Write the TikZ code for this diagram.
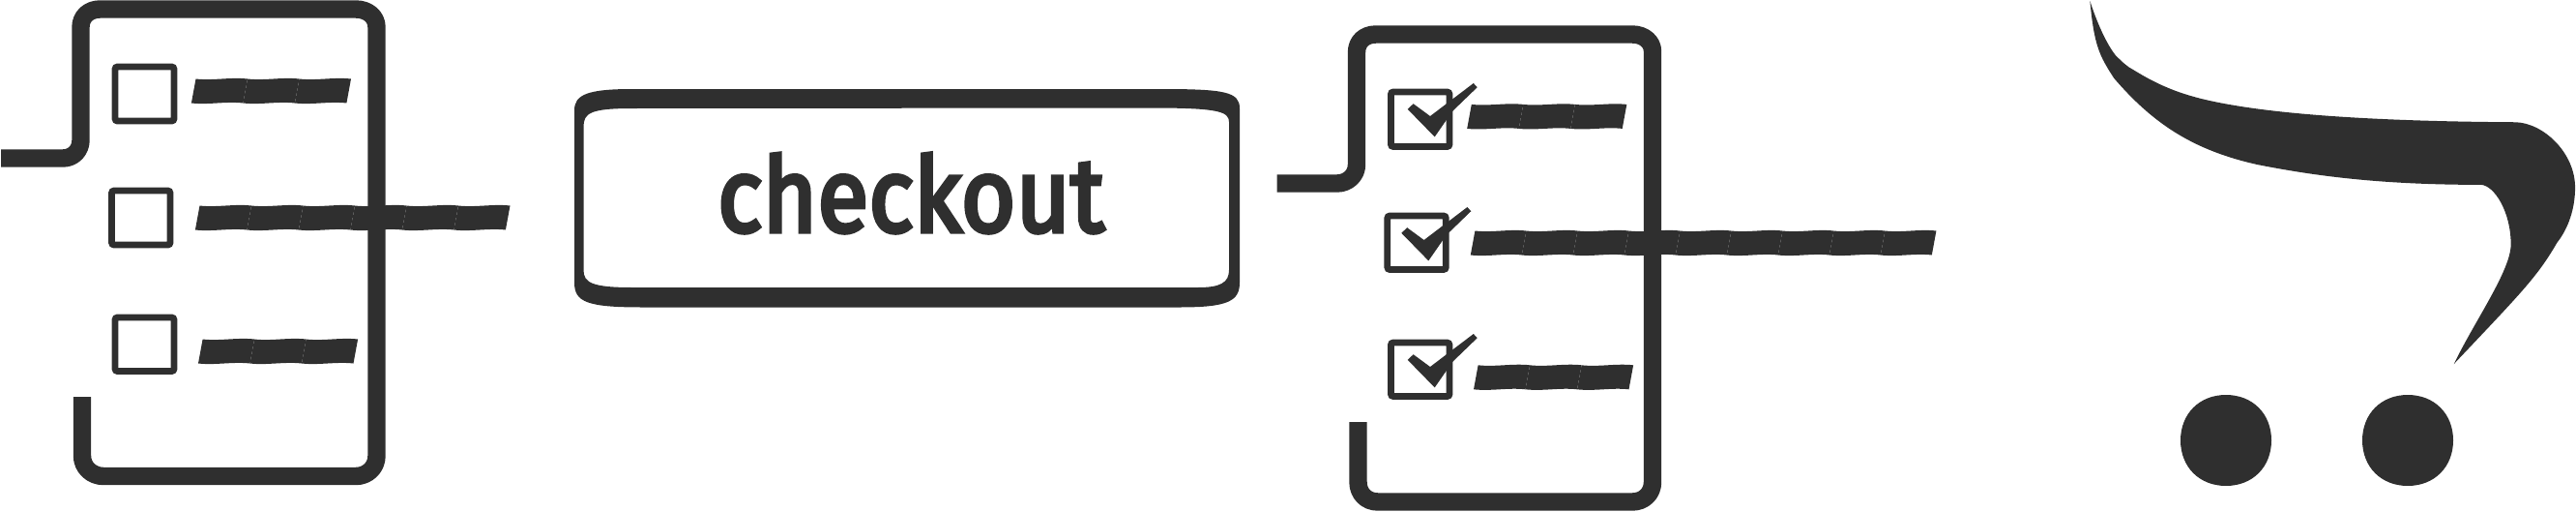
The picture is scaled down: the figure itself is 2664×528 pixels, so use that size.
\documentclass[tikz,border=0pt]{standalone}
\usepackage{graphicx}
\usepackage{fontspec}
\newfontfamily\btnfont[RawFeature={embolden=4}]{Fira Sans}
\definecolor{ink}{HTML}{2F2F2F}
\tikzset{
  frameline/.style={draw=ink,line width=18.4pt,line cap=butt,line join=round},
  tickbox/.style={draw=ink,line width=6.8pt,rounded corners=2.5pt},
  inkfill/.style={fill=ink,draw=none}
}
% x of the top left corner, y of the top, number of pieces, width of a piece
\newcommand{\wavebar}[4]{%
  \foreach \wi in {1,...,#3}{%
    \begin{scope}[shift={({#1+(\wi-1)*#4},#2)}]
      \fill[inkfill] (0,-0.5) .. controls ({#4/3},1.5) and ({2*#4/3},-2.5) .. (#4,-0.5)
        -- ({#4-4.6},24.5) .. controls ({2*#4/3-4.6},22.5) and ({#4/3-4.6},26.5) .. (-4.6,24.5) -- cycle;
    \end{scope}}}
% x and y of the top left corner of a ticked box
\newcommand{\tickmark}[2]{%
  \begin{scope}[shift={(#1,#2)}]
    \fill[inkfill] (20.3,20.8) -- (26.2,15.2) -- (43.6,28) -- (88.4,-6) -- (92.3,-1.8)
      -- (66.8,22.8) -- (48.3,49.4) -- cycle;
  \end{scope}}
% a wheel: a circle a little squared, centred on x, y
\newcommand{\cartwheel}[2]{%
  \begin{scope}[shift={(#1,#2)}]
    \fill[inkfill] (-47,0) .. controls (-47,-27.5) and (-27.5,-47) .. (0,-47)
      .. controls (27.5,-47) and (47,-27.5) .. (47,0)
      .. controls (47,27.5) and (27.5,47) .. (0,47)
      .. controls (-27.5,47) and (-47,27.5) .. (-47,0) -- cycle;
  \end{scope}}
\begin{document}
\begin{tikzpicture}[x=1pt,y=-1pt]
\useasboundingbox (0,0) rectangle (2664,528);
% left list
\draw[frameline] (1,163.5) -- (65,163.5) .. controls (76,163.5) and (83.5,155) .. (83.5,145)
  -- (83.5,28) .. controls (83.5,17) and (92,9.5) .. (103.5,9.5) -- (368,9.5)
  .. controls (380,9.5) and (389.5,17) .. (389.5,28) -- (389.5,471)
  .. controls (389.5,483) and (380,492) .. (368,492) -- (107,492)
  .. controls (95,492) and (85,483) .. (85,471) -- (85,410);
\draw[tickbox] (119,69) rectangle (180,125);
\draw[tickbox] (115.5,197) rectangle (176,253);
\draw[tickbox] (119,328) rectangle (180,383.5);
\wavebar{202.5}{82}{3}{53.5}
\wavebar{206.5}{213}{6}{53.5}
\wavebar{209.6}{351}{3}{53.5}
% button
\fill[inkfill,even odd rule]
  (594,114) .. controls (594,98) and (607,92) .. (654,92) -- (1201,92)
  .. controls (1267,92) and (1282,95) .. (1282,112) -- (1282,292)
  .. controls (1282,311) and (1270,317.5) .. (1220,317.5) -- (664,317.5)
  .. controls (607,317.5) and (594,312) .. (594,292) -- cycle
  (603.5,131) .. controls (603.5,117) and (610,112) .. (654,112) -- (1201,111.5)
  .. controls (1260,112) and (1271,115.5) .. (1271,126) -- (1271,279)
  .. controls (1271,292) and (1262,297) .. (1239,297) -- (654,297)
  .. controls (612,297) and (603.5,292) .. (603.5,279) -- cycle;
\node[inner sep=0pt,text=ink] (checkout) at (942,199.5)
  {\resizebox{400pt}{81pt}{\btnfont checkout}};
% right list
\draw[frameline] (1320.6,189.5) -- (1382.6,189.5) .. controls (1394,189.5) and (1403,181) .. (1403,170)
  -- (1403,54) .. controls (1403,43) and (1411,35.5) .. (1423,35.5) -- (1688,35.5)
  .. controls (1700,35.5) and (1709,43) .. (1709,53) -- (1709,498)
  .. controls (1709,510) and (1700,518.5) .. (1688,518.5) -- (1425,518.5)
  .. controls (1413,518.5) and (1404.5,510) .. (1404.5,498) -- (1404.5,436);
\draw[tickbox] (1438.4,95) rectangle (1499,151.5);
\draw[tickbox] (1434.8,223) rectangle (1495.3,278.5);
\draw[tickbox] (1438.4,354) rectangle (1499,409.5);
\tickmark{1435.4}{92}
\tickmark{1429}{220}
\tickmark{1435.4}{351}
\wavebar{1521.8}{108.4}{3}{53.5}
\wavebar{1525.4}{239}{9}{53}
\wavebar{1528.6}{377.8}{3}{53.5}
% cart
\begin{scope}[shift={(2130,0)},x=0.3406pt,y=-0.3367pt]
\fill[inkfill] (92,3) .. controls (120,90) and (150,145) .. (170,170)
  .. controls (190,190) and (205,205) .. (225,215)
  .. controls (300,262) and (360,285) .. (430,303)
  .. controls (600,345) and (900,372) .. (1385,375)
  .. controls (1470,378) and (1565,470) .. (1565,575)
  .. controls (1565,640) and (1545,700) .. (1510,745)
  .. controls (1450,850) and (1400,900) .. (1197,1117)
  .. controls (1260,985) and (1370,830) .. (1370,750)
  .. controls (1370,650) and (1320,570) .. (1280,567)
  .. controls (1000,567) and (800,545) .. (600,505)
  .. controls (400,460) and (280,375) .. (165,240)
  .. controls (120,170) and (105,140) .. (92,3) -- cycle;
\end{scope}
\cartwheel{2302}{455}
\cartwheel{2490}{455}
\end{tikzpicture}
\end{document}
